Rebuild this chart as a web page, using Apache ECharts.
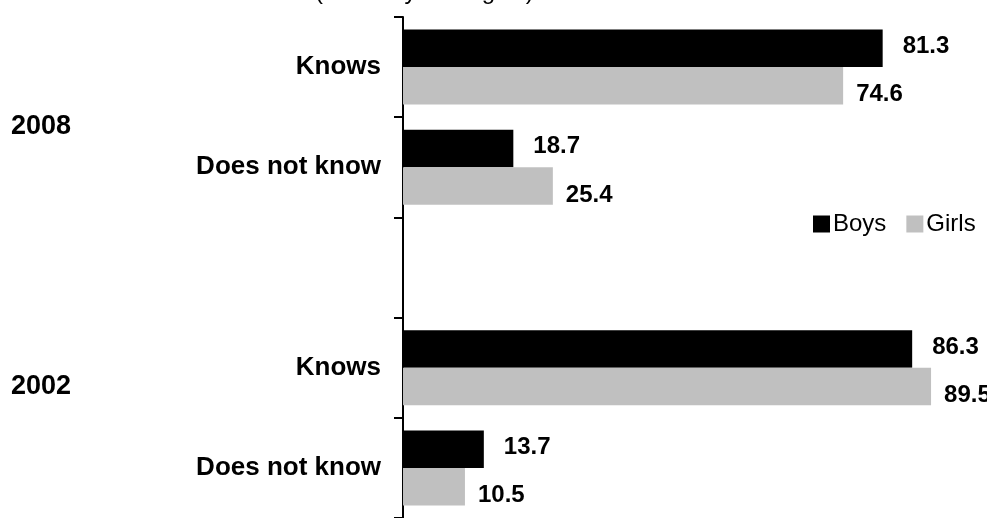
<!DOCTYPE html>
<html>
<head>
<meta charset="utf-8">
<script src="https://cdn.jsdelivr.net/npm/echarts@6/dist/echarts.min.js"></script>
<style>
  html, body { margin: 0; padding: 0; background: #fff; }
  #main { width: 987px; height: 518px; }
</style>
</head>
<body>
<div id="main"></div>
<script>
// categories top to bottom (empty slot separates the two years)
const categories = ["Knows", "Does not know", "", "Knows", "Does not know"];
const yearLabels = ["2008", "2002"];
const boys = [81.3, 18.7, null, 86.3, 13.7];
const girls = [74.6, 25.4, null, 89.5, 10.5];

const font = "Arial, 'Liberation Sans', sans-serif";

const chart = echarts.init(document.getElementById("main"));

const option = {
  animation: false,
  backgroundColor: "#fff",
  title: {
    text: "(% of boys and girls)",
    left: 310,
    top: -25,
    textStyle: { fontFamily: font, fontSize: 24, fontWeight: "normal", color: "#000" }
  },
  legend: {
    data: ["Boys", "Girls"],
    left: 808,
    top: 207,
    itemWidth: 17,
    itemHeight: 17,
    itemGap: 20,
    icon: "rect",
    textStyle: { fontFamily: font, fontSize: 24, color: "#000", padding: [0, 0, 0, -2] }
  },
  grid: {
    left: 403,
    right: 53,
    top: 17,
    bottom: -4,
    containLabel: false
  },
  xAxis: {
    type: "value",
    min: 0,
    max: 90,
    show: false
  },
  yAxis: {
    type: "category",
    inverse: true,
    data: categories.map((c, i) => i),
    axisLine: { show: true, lineStyle: { color: "#000", width: 2 } },
    axisTick: { show: true, length: 9, lineStyle: { color: "#000", width: 2 } },
    axisLabel: {
      margin: 22,
      fontFamily: font,
      fontSize: 26,
      fontWeight: "bold",
      color: "#000",
      formatter: (v) => categories[v]
    }
  },
  series: [
    {
      name: "Boys",
      type: "bar",
      data: boys,
      barWidth: 37.5,
      barGap: "0%",
      itemStyle: { color: "#000" },
      label: {
        show: true,
        position: "right",
        distance: 20,
        offset: [0, -2],
        fontFamily: font,
        fontSize: 24,
        fontWeight: "bold",
        color: "#000"
      }
    },
    {
      name: "Girls",
      type: "bar",
      data: girls,
      barWidth: 37.5,
      barGap: "0%",
      itemStyle: { color: "#c0c0c0" },
      label: {
        show: true,
        position: "right",
        distance: 13,
        offset: [0, 9],
        fontFamily: font,
        fontSize: 24,
        fontWeight: "bold",
        color: "#000"
      }
    }
  ],
  graphic: [
    {
      type: "text",
      left: 11,
      top: 113,
      style: { text: yearLabels[0], font: "bold 27px " + font, fill: "#000" }
    },
    {
      type: "text",
      left: 11,
      top: 373,
      style: { text: yearLabels[1], font: "bold 27px " + font, fill: "#000" }
    }
  ]
};

chart.setOption(option);
</script>
</body>
</html>
